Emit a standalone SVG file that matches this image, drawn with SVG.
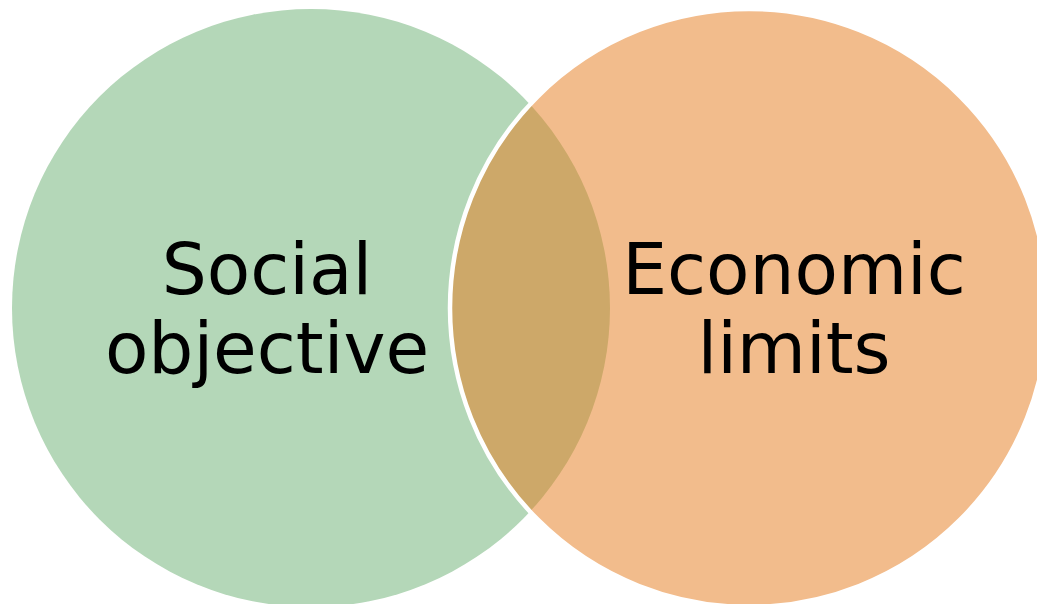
<svg xmlns="http://www.w3.org/2000/svg" width="1037" height="604" viewBox="0 0 1037 604">
<style>
.lbl{font-family:"DejaVu Sans","Verdana",sans-serif;font-size:71px;fill:#000;text-anchor:middle}
</style>
<rect width="1037" height="604" fill="#fff"/>
<g id="social">
<circle cx="311" cy="308" r="299" fill="#b4d7b8"/>
</g>
<g id="economic">
<circle cx="749" cy="308" r="299" fill="#e57919" fill-opacity="0.5" stroke="#fff" stroke-width="4.5"/>
</g>
<g id="labels">
<text class="lbl" x="267" y="294">Social</text>
<text class="lbl" x="267" y="373">objective</text>
<text class="lbl" x="794" y="294">Economic</text>
<text class="lbl" x="794" y="373">limits</text>
</g>
<g id="connectors"/>
</svg>
